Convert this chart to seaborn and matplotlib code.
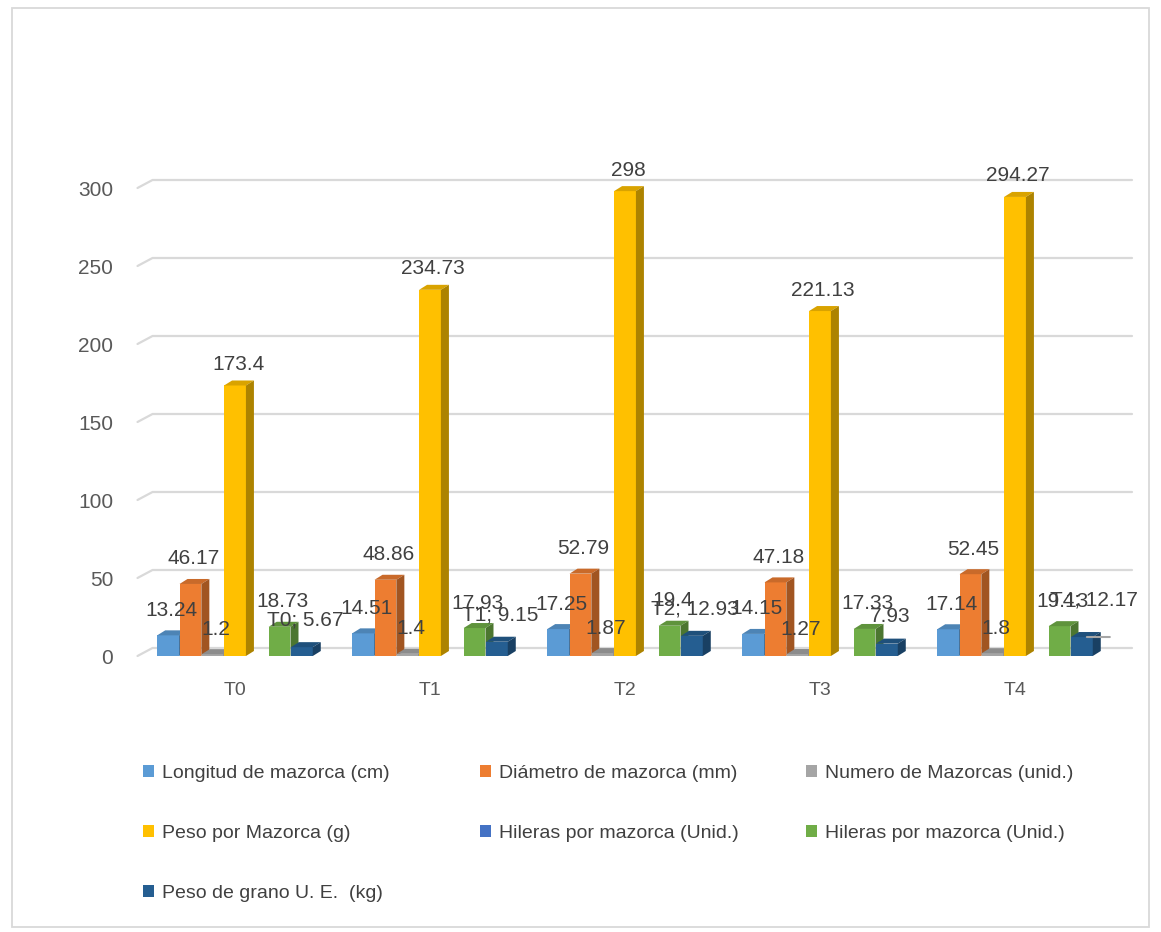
import numpy as np
import pandas as pd
import matplotlib
matplotlib.use("Agg")
import matplotlib.pyplot as plt
from matplotlib.patches import Polygon, Rectangle, Patch
import matplotlib.colors as mcolors
import seaborn as sns

# ---------------- data ----------------
categories = ["T0", "T1", "T2", "T3", "T4"]
series_names = [
    "Longitud de mazorca (cm)",
    "Diámetro de mazorca (mm)",
    "Numero de Mazorcas (unid.)",
    "Peso por Mazorca (g)",
    "Hileras por mazorca (Unid.)",
    "Hileras por mazorca (Unid.) ",
    "Peso de grano U. E.  (kg)",
]
longitud = [13.24, 14.51, 17.25, 14.15, 17.14]
diametro = [46.17, 48.86, 52.79, 47.18, 52.45]
numero = [1.2, 1.4, 1.87, 1.27, 1.8]
peso_mazorca = [173.4, 234.73, 298, 221.13, 294.27]
hileras_azul = [np.nan, np.nan, np.nan, np.nan, np.nan]
hileras_verde = [18.73, 17.93, 19.4, 17.33, 19.13]
peso_grano = [5.67, 9.15, 12.93, 7.93, 12.17]
peso_grano_labels = ["T0; 5.67", "T1; 9.15", "T2; 12.93", "7.93", "T4; 12.17"]
yticks = [0, 50, 100, 150, 200, 250, 300]

colors = ["#5B9BD5", "#ED7D31", "#A5A5A5", "#FFC000", "#4472C4", "#70AD47", "#255E91"]

values = [longitud, diametro, numero, peso_mazorca, hileras_azul, hileras_verde, peso_grano]
rows = []
for name, vals in zip(series_names, values):
    for c, v in zip(categories, vals):
        rows.append({"cat": c, "serie": name, "valor": v})
df = pd.DataFrame(rows)

# ---------------- figure ----------------
sns.set_theme(style="white")
plt.rcParams["font.family"] = ["Liberation Sans", "DejaVu Sans"]

W, H = 1161, 932
fig = plt.figure(figsize=(W / 100, H / 100), dpi=100)
ax_left, ax_right = 137.5, 1132
y0_px, ytop_px = 656, 656 - 320 * 1.56
ax = fig.add_axes([ax_left / W, (H - y0_px) / H, (ax_right - ax_left) / W, (y0_px - ytop_px) / H])

sns.barplot(data=df, x="cat", y="valor", hue="serie", order=categories,
            hue_order=series_names, palette=colors, width=0.8, gap=0.02,
            saturation=1, errorbar=None, legend=False, ax=ax, linewidth=0)

xlim = (-0.5, 4.6)
ax.set_xlim(*xlim)
ax.set_ylim(0, 320)
ax.set_yticks(yticks)
ax.set_xlabel("")
ax.set_ylabel("")
for s in ax.spines.values():
    s.set_visible(False)
ax.grid(False)
ax.tick_params(axis="y", length=0, pad=17.5, labelsize=15, labelcolor="#595959")
ax.tick_params(axis="x", length=0, pad=19, labelsize=14, labelcolor="#595959")

# pixel scale from the axes transform
p0 = ax.transData.transform((0, 0))
p1 = ax.transData.transform((1, 1))
sx = p1[0] - p0[0]
sy = p1[1] - p0[1]
dx = 8 / sx
dy = 5 / sy

# 3-D style gridlines (back wall + short floor diagonal)
gdx = 15 / sx
gdy = 8 / sy
for t in yticks:
    ax.plot([xlim[0], xlim[0] + gdx, xlim[1]], [t, t + gdy, t + gdy],
            color="#d9d9d9", lw=1.6, zorder=0.5, solid_joinstyle="round",
            clip_on=False)

def shade(c, f):
    r, g, b = mcolors.to_rgb(c)
    return (r * f, g * f, b * f)

rgb_palette = np.array([mcolors.to_rgb(c) for c in colors])
label_color = "#404040"
bars = [p for p in ax.patches if isinstance(p, Rectangle)]
for bar in bars:
    h = bar.get_height()
    if h is None or np.isnan(h) or h <= 0:
        continue
    fc = np.array(mcolors.to_rgb(bar.get_facecolor()))
    si = int(np.argmin(((rgb_palette - fc) ** 2).sum(axis=1)))
    col = colors[si]
    x0 = bar.get_x()
    x1 = x0 + bar.get_width()
    xc = (x0 + x1) / 2
    ci = int(round(xc))
    z = 2 + si * 0.01
    bar.set_zorder(z)
    top = Polygon([(x0, h), (x1, h), (x1 + dx, h + dy), (x0 + dx, h + dy)],
                  closed=True, facecolor=shade(col, 0.85), edgecolor="none", zorder=z)
    side = Polygon([(x1, 0), (x1, h), (x1 + dx, h + dy), (x1 + dx, dy)],
                   closed=True, facecolor=shade(col, 0.68), edgecolor="none", zorder=z)
    ax.add_patch(top)
    ax.add_patch(side)
    if si == 6:
        txt = peso_grano_labels[ci]
        if ci == 4:
            off = (12, 37)
            ax.annotate("", xy=(xc + 5 / sx, h), xytext=(xc + 28 / sx, h),
                        arrowprops=dict(arrowstyle="-", color="#a6a6a6", lw=1.5,
                                        shrinkA=0, shrinkB=0), zorder=5)
        else:
            off = (3, 27)
    else:
        txt = f"{h:g}"
        off = (3, 21 if si == 3 else 25)
    ax.annotate(txt, xy=(xc, h), xytext=off, textcoords="offset pixels",
                ha="center", va="center", fontsize=15, color=label_color,
                zorder=6, annotation_clip=False)

# ---------------- legend (three columns) ----------------
handles = [Patch(facecolor=c, edgecolor="none") for c in colors]
col_groups = [[0, 3, 6], [1, 4], [2, 5]]
col_x = [143, 480, 806]
for grp, xp in zip(col_groups, col_x):
    leg = fig.legend([handles[i] for i in grp], [series_names[i].strip() for i in grp],
                     loc="upper left", bbox_to_anchor=(xp / W, 1 - 765 / H),
                     frameon=False, fontsize=14, labelcolor="#404040",
                     handlelength=0.55, handleheight=0.55, handletextpad=0.45,
                     labelspacing=2.2, borderpad=0, borderaxespad=0)

# outer chart border
fig.patches.append(Rectangle((12 / W, 5 / H), (1149 - 12) / W, (927 - 8) / H,
                             transform=fig.transFigure, fill=False,
                             edgecolor="#d9d9d9", lw=1.3))

fig.savefig("out.png", dpi=100, facecolor="white")
